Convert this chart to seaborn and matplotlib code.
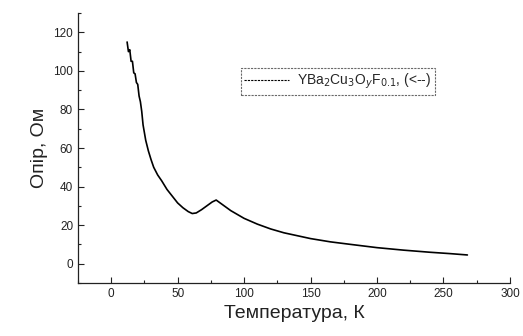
import matplotlib
matplotlib.use("Agg")
import matplotlib.pyplot as plt
import seaborn as sns
import pandas as pd
from matplotlib.ticker import MultipleLocator

temperature = [12, 13, 14, 15, 16, 17, 18, 19, 20, 21, 22, 23, 24, 26, 28, 30, 32, 35, 38, 42,
               46, 50, 54, 58, 61, 64, 68, 72, 76, 79, 82, 86, 90, 95, 100, 110, 120, 130, 140,
               150, 165, 180, 200, 220, 240, 255, 268]
resistance = [115, 110, 111, 105, 105, 99, 98.5, 94, 93, 87, 84, 79, 72, 64, 58.5, 54, 50, 46, 43, 38.5,
              35, 31.5, 29, 27, 26, 26.3, 28, 30, 32, 33, 31.5, 29.5, 27.5, 25.5, 23.5, 20.5, 18, 16,
              14.5, 13, 11.3, 10, 8.3, 7, 5.9, 5.2, 4.5]
series_label = "YBa$_2$Cu$_3$O$_y$F$_{0.1}$, (<--)"
x_label = "Температура, К"
y_label = "Опір, Ом"

df = pd.DataFrame({"T": temperature, "R": resistance, "s": series_label})

sns.set_style("ticks")
plt.rcParams["font.family"] = ["Liberation Sans", "DejaVu Sans"]

fig = plt.figure(figsize=(5.23, 3.36), dpi=100)
ax = fig.add_axes([0.149, 0.158, 0.826, 0.803])
sns.lineplot(data=df, x="T", y="R", hue="s", palette=["black"], linewidth=1.2,
             sort=False, ax=ax, legend=True)

ax.set_xlim(-25, 300)
ax.set_ylim(-10, 130)
ax.xaxis.set_major_locator(MultipleLocator(50))
ax.xaxis.set_minor_locator(MultipleLocator(25))
ax.yaxis.set_major_locator(MultipleLocator(20))
ax.yaxis.set_minor_locator(MultipleLocator(10))
ax.tick_params(which="both", direction="in", color="#222222", width=0.8)
ax.tick_params(which="major", length=4, labelsize=8.5, labelcolor="#222222")
ax.tick_params(which="minor", length=2.5)
sns.despine(ax=ax)
for sp in ax.spines.values():
    sp.set_linewidth(0.9)
    sp.set_color("#222222")

ax.set_xlabel(x_label, fontsize=14, color="#222222")
ax.set_ylabel(y_label, fontsize=14, color="#222222")

leg = ax.legend(loc="upper left", bbox_to_anchor=(0.377, 0.795), frameon=True, fancybox=False,
                fontsize=10, handlelength=3.2, handletextpad=0.6, borderpad=0.25,
                borderaxespad=0)
leg.get_frame().set_edgecolor("#444444")
leg.get_frame().set_linewidth(0.8)
leg.get_frame().set_linestyle((0, (2, 1)))
for h in leg.get_lines():
    h.set_linestyle((0, (2, 1)))
    h.set_linewidth(0.8)

fig.savefig("out.png", dpi=100)
